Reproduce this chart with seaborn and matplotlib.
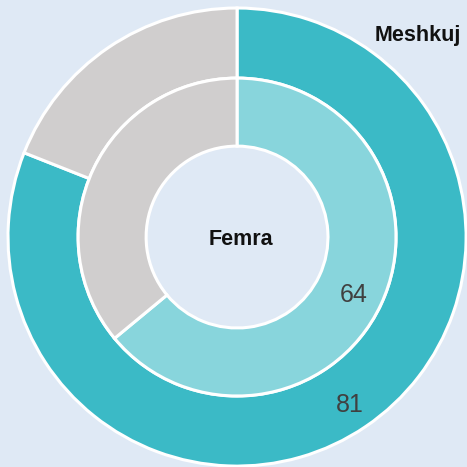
import matplotlib
matplotlib.use("Agg")
import matplotlib.pyplot as plt
import seaborn as sns
import numpy as np

# Share of respondents (percent)
groups = ["Meshkuj", "Femra"]
values = [81, 64]
colors_main = ["#3bbac6", "#88d5dc"]
rest_color = "#d0cece"
bg = "#dfe9f5"

sns.set_style("white")
plt.rcParams["font.family"] = ["Liberation Sans", "DejaVu Sans"]

fig = plt.figure(figsize=(4.67, 4.67), dpi=100)
fig.patch.set_facecolor(bg)
ax = fig.add_axes([0, 0, 1, 1])
ax.set_facecolor(bg)

outer_r, inner_r = 1.0, 0.694
hole_r = 0.397
radii = [(outer_r, outer_r - inner_r), (inner_r, inner_r - hole_r)]
label_r = [0.875, 0.565]

for (r, w), v, c, lr in zip(radii, values, colors_main, label_r):
    wedges, _ = ax.pie([v, 100 - v], radius=r, startangle=90, counterclock=False,
                       colors=[c, rest_color],
                       wedgeprops=dict(width=w, edgecolor="white", linewidth=2.2))
    w0 = wedges[0]
    mid = np.deg2rad((w0.theta1 + w0.theta2) / 2)
    ax.text(lr * np.cos(mid), lr * np.sin(mid), f"{v}", ha="center",
            va="center_baseline", fontsize=18, color="#404040")

ax.text(0.79, 0.88, groups[0], ha="center", va="center", fontsize=15.5,
        fontweight="bold", color="#111111")
ax.text(0.015, -0.01, groups[1], ha="center", va="center", fontsize=15.5,
        fontweight="bold", color="#111111")

ax.set_xlim(-1.035, 1.004)
ax.set_ylim(-1.004, 1.035)
ax.set_aspect("equal")
ax.axis("off")

fig.savefig("out.png", dpi=100, facecolor=bg)
